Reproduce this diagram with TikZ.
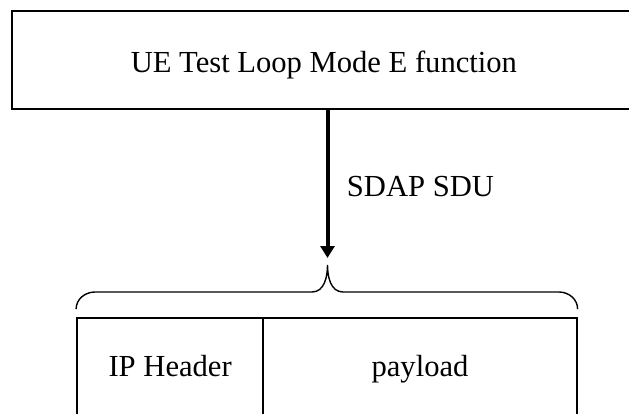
\documentclass[tikz,border=0pt]{standalone}
\usepackage{fontspec}
\setmainfont{Liberation Serif}
\usetikzlibrary{arrows.meta}
\begin{document}
\begin{tikzpicture}[x=1pt,y=-1pt,
  lbl/.style={font=\fontsize{30.6}{36}\selectfont},
  boxline/.style={draw=black,line width=1.8pt},
  cell/.style={boxline,rectangle,inner sep=0pt,minimum height=102.4pt,text height=21pt,text depth=6pt,lbl},
  bracel/.style={draw=black,line width=1.4pt},
  flow/.style={draw=black,line width=4pt,-{Triangle[length=12pt,width=14pt]}},
]
\useasboundingbox (0,0) rectangle (629,414);
\clip (0,0) rectangle (629,414);
\node[boxline,rectangle,inner sep=0pt,minimum width=624pt,minimum height=98.3pt,
      text height=27pt,text depth=2.1pt,lbl] (tlm) at (323.9,59.85) {UE Test Loop Mode E function};
\node[cell,minimum width=186.3pt] (ip) at (170.15,369.2) {IP Header};
\node[cell,minimum width=313.4pt] (pl) at (420,369.2) {payload};
\coordinate (bt) at (327.5,265);
\draw[bracel] ([yshift=8pt]ip.north west) to[out=90,in=180] (95,292) -- (312,292)
  to[out=0,in=-90] (bt) to[out=-90,in=180] (343,292) -- (559,292)
  to[out=0,in=90] ([yshift=8pt]pl.north east);
\draw[flow,shorten >=7pt] (tlm.south -| bt) -- (bt);
\node[lbl,anchor=base west,inner sep=0pt] (sdu) at (346.7,196.7) {SDAP SDU};
\end{tikzpicture}
\end{document}
